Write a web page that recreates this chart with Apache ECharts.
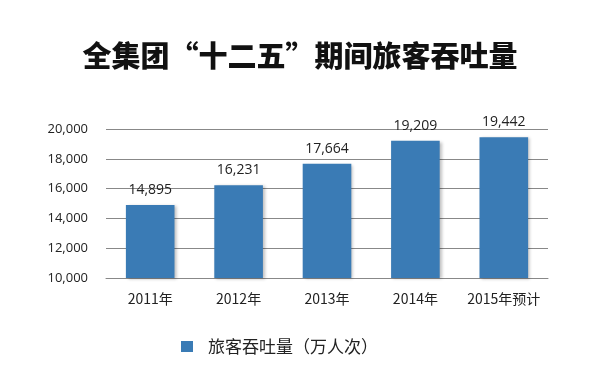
<!DOCTYPE html>
<html><head><meta charset="utf-8">
<script src="https://cdn.jsdelivr.net/npm/echarts@6/dist/echarts.min.js"></script>
<style>html,body{margin:0;padding:0;background:#fff}#c{width:600px;height:384px}</style>
</head><body><div id="c"></div>
<script>
const titleText = '全集团“十二五”期间旅客吞吐量';
const categories = ['2011年', '2012年', '2013年', '2014年', '2015年预计'];
const seriesName = '旅客吞吐量（万人次）';
const values = [14895, 16231, 17664, 19209, 19442];
const yMin = 10000, yMax = 20000, yStep = 2000;

const chart = echarts.init(document.getElementById('c'));
chart.setOption({
  backgroundColor: '#fff',
  animation: false,
  title: {
    text: titleText, left: 'center', top: 36,
    textStyle: { fontFamily: 'Noto Sans CJK SC', fontWeight: 900, fontSize: 29, color: '#111' }
  },
  legend: {
    data: [seriesName], left: 176, top: 333, icon: 'rect', itemWidth: 12, itemHeight: 11,
    textStyle: { fontFamily: 'Noto Sans CJK SC', fontSize: 17, color: '#222', padding: [0, 0, 0, 10] }
  },
  grid: { left: 106, right: 52, top: 129, bottom: 106 },
  xAxis: {
    type: 'category', data: categories,
    axisLine: { lineStyle: { color: '#888' } }, axisTick: { show: false },
    axisLabel: { interval: 0, fontFamily: 'Noto Sans CJK SC', fontSize: 14, color: '#222', margin: 14 }
  },
  yAxis: {
    type: 'value', min: yMin, max: yMax, interval: yStep,
    axisLine: { show: false }, axisTick: { show: false },
    splitLine: { lineStyle: { color: '#888' } },
    axisLabel: { fontFamily: 'Open Sans', fontSize: 13, color: '#222', margin: 18,
      formatter: v => v.toLocaleString('en-US') }
  },
  series: [{
    name: seriesName, type: 'bar', data: values, barWidth: '55%',
    itemStyle: { color: '#3a7bb5', shadowColor: 'rgba(0,0,0,0.25)', shadowBlur: 3, shadowOffsetX: 2, shadowOffsetY: 1 },
    label: { show: true, position: 'top', distance: 8, fontFamily: 'Open Sans', fontSize: 14, color: '#222',
      formatter: p => p.value.toLocaleString('en-US') }
  }]
});
</script></body></html>
